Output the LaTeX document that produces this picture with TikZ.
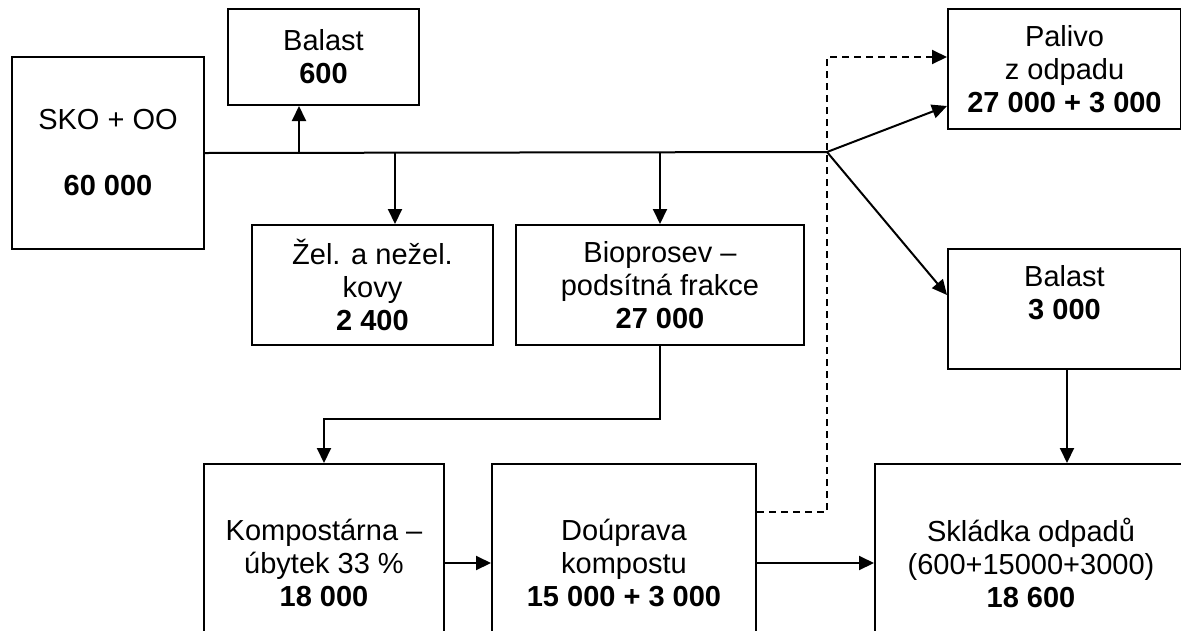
\documentclass[tikz,border=0pt]{standalone}
\usepackage{fontspec}
\setmainfont{Liberation Sans}
\usetikzlibrary{arrows.meta}

\begin{document}
\begin{tikzpicture}[
  x=1pt, y=-1pt,
  blok/.style={draw, line width=2pt, anchor=north west, align=center,
    inner sep=0pt, font=\fontsize{29}{33}\selectfont},
  spoj/.style={draw, line width=2pt},
  sipka/.style={spoj, -{Triangle[length=15pt,width=14pt]}},
  prerus/.style={sipka, dash pattern=on 7pt off 5pt}
]
\useasboundingbox (0,0) rectangle (1181,630);
\clip (0,0) rectangle (1181,630);
\node[blok, minimum width=192pt, minimum height=192pt] (sko) at (11,56)
  {SKO + OO\\ \mbox{}\\ \textbf{60 000}};
\node[blok, minimum width=191pt, minimum height=96pt] (b600) at (227,8)
  {Balast\\ \textbf{600}};
\node[blok, minimum width=241pt, minimum height=120pt] (kovy) at (251,224)
  {Žel. a nežel.\\ kovy\\ \textbf{2 400}};
\node[blok, minimum width=288pt, minimum height=120pt] (bio) at (515,224)
  {Bioprosev –\\ podsítná frakce\\ \textbf{27 000}};
\node[blok, minimum width=233pt, minimum height=120pt] (pal) at (947,8)
  {Palivo\\ z odpadu\\ \textbf{27 000 + 3 000}};
\node[blok, minimum width=233pt, minimum height=120pt] (b3) at (947,248)
  {Balast\\ \textbf{3 000}\\ \mbox{}};
\node[blok, minimum width=240pt, minimum height=198pt] (kom) at (203,463)
  {Kompostárna –\\ úbytek 33 \%\\ \textbf{18 000}};
\node[blok, minimum width=264pt, minimum height=198pt] (dou) at (491,463)
  {Doúprava\\ kompostu\\ \textbf{15 000 + 3 000}};
\node[blok, minimum width=312pt, minimum height=198pt] (skl) at (874,463)
  {Skládka odpadů\\ (600+15000+3000)\\ \textbf{18 600}};

\coordinate (uzel) at (827,152);
\coordinate (odb) at (299,152);
\coordinate (zlom) at (827,512);

\draw[spoj] (sko.east) -- (uzel);
\draw[sipka] (odb) -- (odb |- b600.south);
\draw[sipka] (sko.east -| 395,0) -- (kovy.north -| 395,0);
\draw[sipka] (sko.east -| bio.north) -- (bio.north);
\draw[sipka] (uzel) -- (pal.west |- 0,106);
\draw[sipka] (uzel) -- (b3.west |- 0,295);
\draw[sipka] (bio.south) -- ++(0,73) -| (kom.north);
\draw[sipka] (kom.east) -- (dou.west);
\draw[sipka] (dou.east) -- (skl.west);
\draw[sipka] (b3.south -| 1067,0) -- (skl.north -| 1067,0);
\draw[prerus] (dou.east |- zlom) -- (zlom) -- (uzel |- 0,57) -- (pal.west |- 0,57);
\end{tikzpicture}
\end{document}
